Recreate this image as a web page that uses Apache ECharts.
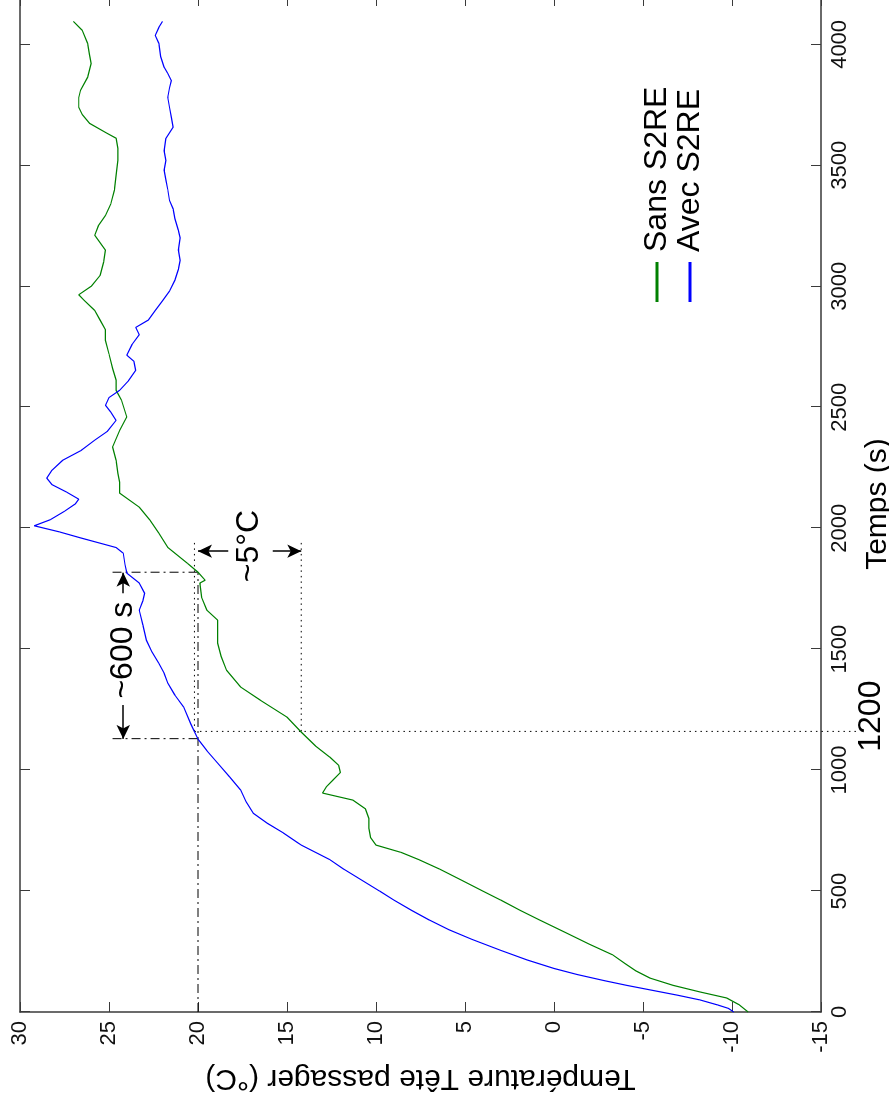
<!DOCTYPE html>
<html>
<head>
<meta charset="utf-8">
<script src="https://cdn.jsdelivr.net/npm/echarts@6/dist/echarts.min.js"></script>
<style>
html,body{margin:0;padding:0;background:#fff;overflow:hidden;width:889px;height:1104px;}
#chart{position:absolute;left:0;top:0;width:1104px;height:889px;transform-origin:0 0;transform:translateY(1104px) rotate(-90deg);}
</style>
</head>
<body>
<div id="chart"></div>
<script>
// ---- data (time in s, temperature in °C) ----
const seriesNames = ['Sans S2RE', 'Avec S2RE'];
const timeSans = [0,30,58,83,110,140,170,200,236,280,330,380,420,463,500,545,590,630,660,690,720,760,800,840,876,905,930,960,990,1020,1054,1100,1157,1219,1289,1343,1413,1470,1525,1620,1661,1715,1773,1785,1818,1855,1921,1980,2033,2087,2145,2190,2227,2280,2335,2405,2460,2529,2570,2612,2660,2720,2777,2820,2860,2900,2942,2965,3000,3045,3100,3149,3211,3250,3293,3340,3397,3460,3521,3570,3612,3632,3674,3710,3740,3780,3810,3864,3921,3960,4004,4058,4095];
const tempSans = [-10.9,-10.4,-9.7,-8.2,-6.7,-5.4,-4.6,-4.0,-3.3,-2.0,-0.6,0.8,1.9,3.0,4.0,5.2,6.4,7.6,8.6,10.0,10.3,10.4,10.4,10.6,11.3,13.0,12.8,12.4,12.0,12.1,12.6,13.4,14.2,15.0,16.5,17.6,18.4,18.7,18.9,18.9,19.5,19.8,19.9,19.6,20.0,20.6,21.7,22.2,22.7,23.3,24.4,24.4,24.5,24.6,24.8,24.4,24.0,24.3,24.6,24.6,24.8,25.0,25.2,25.2,25.5,25.8,26.4,26.7,26.0,25.5,25.3,25.2,25.8,25.6,25.2,24.9,24.7,24.6,24.5,24.5,24.6,25.1,26.1,26.5,26.7,26.7,26.6,26.2,26.0,26.1,26.2,26.5,27.0];
const timeAvec = [0,15,29,50,70,90,110,130,155,180,215,255,300,340,380,420,463,500,545,590,630,660,690,700,740,780,822,870,917,970,1029,1080,1128,1190,1260,1310,1360,1400,1442,1490,1537,1600,1661,1700,1731,1773,1814,1850,1897,1920,1938,1960,1985,2010,2035,2070,2100,2120,2150,2180,2207,2240,2281,2320,2364,2400,2446,2480,2508,2540,2570,2610,2653,2690,2715,2760,2800,2830,2860,2900,2940,2980,3025,3070,3107,3150,3200,3231,3280,3320,3355,3400,3440,3480,3520,3560,3612,3657,3698,3740,3781,3820,3851,3880,3905,3950,4004,4037,4070,4095];
const tempAvec = [-10.1,-9.8,-9.2,-8.2,-6.9,-5.5,-4.1,-2.8,-1.3,0.0,1.5,3.0,4.6,5.9,7.0,8.0,9.0,9.8,10.8,11.8,12.6,13.4,14.2,14.4,15.2,16.1,16.9,17.3,17.6,18.2,18.9,19.5,20.0,20.4,20.8,21.3,21.7,21.9,22.2,22.6,22.9,23.1,23.3,23.1,23.0,23.3,24.0,24.1,24.2,24.6,25.5,26.6,27.8,29.2,28.3,27.5,26.9,26.7,27.4,28.2,28.5,28.2,27.6,26.6,25.8,25.1,24.6,24.9,25.2,25.0,24.4,23.9,23.5,23.6,24.0,23.7,23.3,23.5,22.8,22.4,22.0,21.6,21.3,21.1,21.0,21.1,21.0,21.1,21.3,21.4,21.6,21.7,21.8,21.9,21.8,21.9,21.8,21.4,21.5,21.6,21.7,21.6,21.5,21.7,21.9,22.1,22.2,22.4,22.2,22.0];
const timeTicks = [0,500,1000,1500,2000,2500,3000,3500,4000];
const tempTicks = [-15,-10,-5,0,5,10,15,20,25,30];
// annotations, in data coordinates [time, temperature]
const dashDotSegs = [[[1130,24.8],[1130,20]],[[1818,24.8],[1818,20]],[[0,20],[1818,20]]];
const dottedSegs = [[[1160,20.2],[1160,-17.1]],[[1160,14.2],[1950,14.2]],[[1160,20.2],[1950,20.2]]];
const arrowSegs = [[[1731,24.2],[1816,24.2]],[[1269,24.2],[1129,24.2]],[[1905,18.3],[1905,20.0]],[[1905,15.8],[1905,14.2]]];
const noteTexts = ['~600 s','~5°C','1200'];
const notePos = [[1496,24.2],[1926,17.1],[1223,-17.8]];

const FONT = 'Liberation Sans, Arial, Helvetica, sans-serif';
const AX = '#3a3a3a';
const pair = (a,b) => a.map((v,i)=>[v,b[i]]);

function segSeries(segs, dash){
  return segs.map(s => ({
    type:'line', data:s, symbol:'none', clip:false, silent:true,
    lineStyle:{color:'#000', width:1, type:dash}, z:3
  }));
}

const chart = echarts.init(document.getElementById('chart'), null, {renderer:'canvas'});
const axisCommon = {
  type:'value', splitLine:{show:false},
  axisLine:{show:true, onZero:false, lineStyle:{color:AX, width:1.5}},
  axisTick:{show:true, inside:true, length:10, lineStyle:{color:AX, width:1}}
};
chart.setOption({
  animation:false,
  backgroundColor:'#fff',
  textStyle:{fontFamily:FONT},
  grid:{left:92, right:-4, top:20, bottom:68, containLabel:false, outerBoundsMode:'none'},
  legend:{
    orient:'vertical', left:797, top:636, itemGap:1,
    icon:'rect', itemWidth:40, itemHeight:3,
    data:seriesNames,
    textStyle:{fontFamily:FONT, fontSize:32, lineHeight:32, color:'#000', padding:[0,0,0,5]}
  },
  xAxis:[
    Object.assign({}, axisCommon, {
      position:'bottom', min:timeTicks[0], max:4200, interval:500,
      axisLabel:{show:true, fontSize:22, color:'#111', margin:8, fontFamily:FONT,
        formatter:v => timeTicks.includes(v) ? String(v) : ''},
      name:'Temps (s)', nameLocation:'middle', nameGap:57,
      nameTextStyle:{fontSize:30, color:'#000', fontFamily:FONT, verticalAlign:'middle'}
    }),
    Object.assign({}, axisCommon, {
      position:'top', min:timeTicks[0], max:4200, interval:500,
      axisLabel:{show:false}
    })
  ],
  yAxis:[
    Object.assign({}, axisCommon, {
      position:'left', min:tempTicks[0], max:tempTicks[tempTicks.length-1], interval:5,
      axisLabel:{show:true, fontSize:22, color:'#111', margin:9, fontFamily:FONT},
      name:'Température Tête passager (°C)', nameLocation:'middle', nameGap:54,
      nameTextStyle:{fontSize:30, color:'#000', fontFamily:FONT, verticalAlign:'middle'}
    }),
    Object.assign({}, axisCommon, {
      position:'right', min:tempTicks[0], max:tempTicks[tempTicks.length-1], interval:5,
      axisLabel:{show:false}
    })
  ],
  series:[
    {name:seriesNames[0], type:'line', data:pair(timeSans,tempSans), symbol:'none',
     lineStyle:{color:'#008000', width:1.2}, itemStyle:{color:'#008000'}, z:4},
    {name:seriesNames[1], type:'line', data:pair(timeAvec,tempAvec), symbol:'none',
     lineStyle:{color:'#0000ff', width:1.2}, itemStyle:{color:'#0000ff'}, z:5},
    ...segSeries(dashDotSegs, [9,4,2,4]),
    ...segSeries(dottedSegs, [1.5,4]),
    {type:'line', data:[], symbol:'none', silent:true,
     markLine:{silent:true, symbol:['none','arrow'], symbolSize:[10,14],
       label:{show:false},
       lineStyle:{color:'#000', width:1.5, type:'solid'},
       data:arrowSegs.map(s => [{coord:s[0]},{coord:s[1]}])}},
    {type:'scatter', data:notePos.map((p,i)=>({value:p, name:noteTexts[i]})), clip:false, silent:true,
     symbolSize:1, itemStyle:{opacity:0},
     label:{show:true, position:'inside', formatter:p => p.name, color:'#000', fontFamily:FONT,
       fontSize:32, opacity:1}}
  ]
});
</script>
</body>
</html>
